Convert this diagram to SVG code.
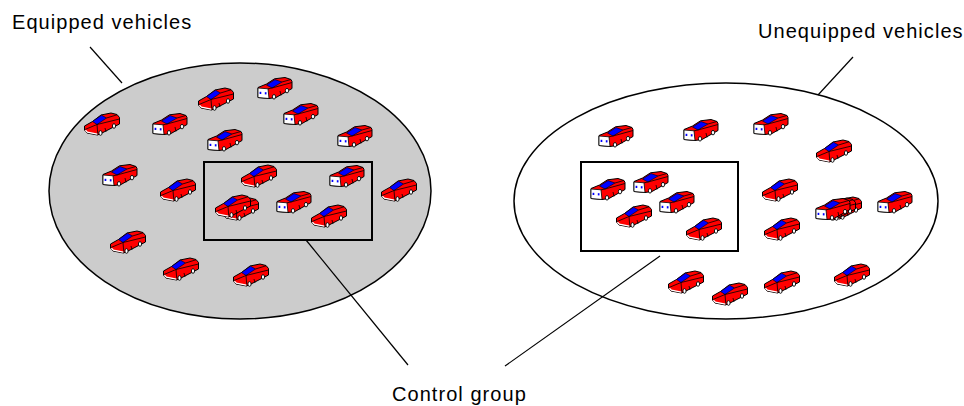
<svg xmlns="http://www.w3.org/2000/svg" xmlns:xlink="http://www.w3.org/1999/xlink" width="964" height="406" viewBox="0 0 964 406">
  <style>
    .label { font-family: "Liberation Sans", Arial, sans-serif; font-size: 20px; letter-spacing: 1.05px; fill: #000; }
    .pool { stroke: #000; stroke-width: 1.5; }
    .group { fill: none; stroke: #000; stroke-width: 2; }
    .leader { fill: none; stroke: #000; stroke-width: 1.2; }
    .body { fill: #ff0000; stroke: #000; stroke-width: 1; stroke-linejoin: round; }
    .glass { fill: #0000ff; stroke: #000; stroke-width: 0.6; }
    .edge { fill: none; stroke: #000; stroke-width: 0.8; }
    .face { fill: #fff; stroke: #000; stroke-width: 0.8; }
    .lamp { fill: #0000ff; }
    .bumper { fill: none; stroke: #fff; stroke-width: 1.3; }
    .wheel { fill: #fff; stroke: #000; stroke-width: 0.9; }
  </style>
  <defs>
    <!-- car seen from the side/front, red nose with white bumper -->
    <g id="carB">
      <path class="body" d="M0.5,14 L8.5,9.5 L17,3 L27,1 L33,2.5 L35.5,5.5 L35.5,12 L18,21 L13.5,23 L3,21 L0.5,18 Z"/>
      <path class="glass" d="M8.5,9.5 L17.5,3.2 L22.5,6 L13,12.5 Z"/>
      <path class="edge" d="M22.5,6 L33,2.8 M13,12.5 L35.5,7 M13,12.5 L13.8,22.5 M1,17.5 L13,12.5 M21,16 L22,20"/>
      <path class="bumper" d="M1.4,18.2 L3.4,20.2 L13.3,22.2"/>
      <ellipse class="wheel" cx="16.5" cy="21" rx="1.6" ry="2.3"/>
      <ellipse class="wheel" cx="30" cy="14" rx="1.6" ry="2.3"/>
    </g>
    <!-- car seen from the front, white grille with blue lamps -->
    <g id="carA">
      <path class="body" d="M1,10.5 L9.5,7 L17.5,1.8 L28,0.5 L34,2.5 L35,4.5 L35,11.5 L19,20.5 L12,21.5 L1,20.5 Z"/>
      <path class="glass" d="M9.5,8 L18,2.6 L25,5 L15,11 Z"/>
      <path class="edge" d="M25,5 L33.5,2.6 M15,11 L35,5.5 M11,11.8 L15,11 M23,14 L24,18.5"/>
      <path class="face" d="M1,11 L11,11.8 L12,21.5 L1,20.5 Z"/>
      <rect class="lamp" x="2.6" y="14.8" width="1.7" height="2.2"/>
      <rect class="lamp" x="7.8" y="15.2" width="1.7" height="2.2"/>
      <ellipse class="wheel" cx="17" cy="19.8" rx="1.6" ry="2.3"/>
      <ellipse class="wheel" cx="30" cy="13.6" rx="1.6" ry="2.3"/>
    </g>
  </defs>

  <!-- equipped fleet -->
  <g id="equipped">
    <ellipse class="pool" cx="240" cy="191" rx="191" ry="128" fill="#cccccc"/>
    <use href="#carB" x="84" y="112"/>
    <use href="#carA" x="152" y="113"/>
    <use href="#carB" x="198" y="87"/>
    <use href="#carA" x="257" y="77"/>
    <use href="#carA" x="283" y="103"/>
    <use href="#carA" x="207" y="129"/>
    <use href="#carA" x="337" y="125"/>
    <use href="#carA" x="102" y="164"/>
    <use href="#carB" x="160" y="178"/>
    <use href="#carB" x="241" y="164"/>
    <use href="#carA" x="329" y="165"/>
    <use href="#carB" x="381" y="178"/>
    <use href="#carB" x="223" y="197"/>
    <use href="#carB" x="215" y="194"/>
    <use href="#carA" x="276" y="191"/>
    <use href="#carB" x="311" y="204"/>
    <use href="#carB" x="110" y="230"/>
    <use href="#carB" x="163" y="257"/>
    <use href="#carB" x="233" y="263"/>
  </g>

  <!-- unequipped fleet -->
  <g id="unequipped">
    <ellipse class="pool" cx="726" cy="201" rx="212" ry="118" fill="#ffffff"/>
    <use href="#carA" x="598" y="125"/>
    <use href="#carA" x="683" y="119"/>
    <use href="#carA" x="753" y="113"/>
    <use href="#carB" x="816" y="139"/>
    <use href="#carA" x="590" y="178"/>
    <use href="#carA" x="633" y="171"/>
    <use href="#carB" x="616" y="204"/>
    <use href="#carA" x="659" y="191"/>
    <use href="#carB" x="686" y="217"/>
    <use href="#carB" x="762" y="178"/>
    <use href="#carB" x="764" y="217"/>
    <use href="#carB" x="826" y="196"/>
    <use href="#carB" x="820" y="197"/>
    <use href="#carA" x="815" y="198"/>
    <use href="#carA" x="877" y="191"/>
    <use href="#carB" x="668" y="270"/>
    <use href="#carB" x="712" y="282"/>
    <use href="#carB" x="764" y="270"/>
    <use href="#carB" x="834" y="263"/>
  </g>

  <!-- control group boxes -->
  <g id="control-equipped">
    <rect class="group" x="204" y="162" width="168" height="78"/>
  </g>
  <g id="control-unequipped">
    <rect class="group" x="581" y="162" width="157" height="89"/>
  </g>

  <!-- callout lines -->
  <g id="connectors">
    <line class="leader" x1="90" y1="47" x2="122" y2="83"/>
    <line class="leader" x1="853" y1="57" x2="818" y2="95"/>
    <line class="leader" x1="306" y1="240" x2="408" y2="365"/>
    <line class="leader" x1="660" y1="256" x2="505" y2="366"/>
  </g>

  <!-- captions -->
  <g id="labels">
    <text class="label" x="12" y="29">Equipped vehicles</text>
    <text class="label" x="758" y="38">Unequipped vehicles</text>
    <text class="label" x="392" y="401">Control group</text>
  </g>
</svg>
